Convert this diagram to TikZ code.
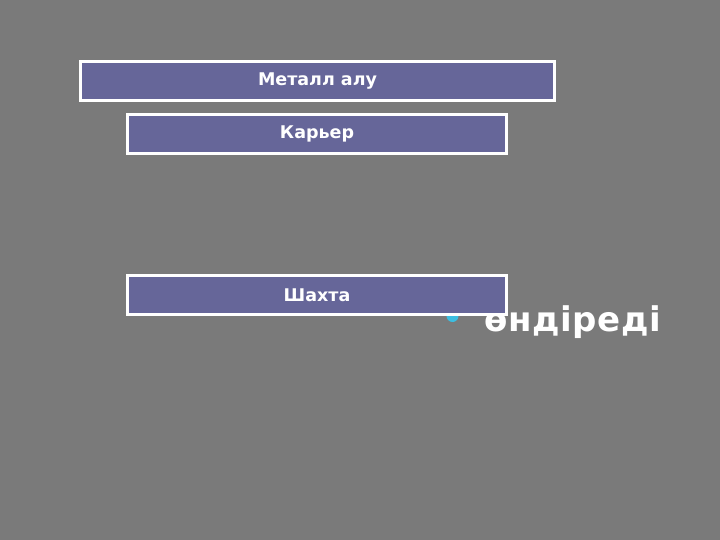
\documentclass[tikz,border=0pt]{standalone}
\usepackage{fontspec}
\setmainfont{DejaVu Sans}
\usepackage{xcolor}
\usetikzlibrary{positioning}

\definecolor{slidegray}{RGB}{122,122,122}
\definecolor{boxblue}{RGB}{102,102,153}
\definecolor{bulletcyan}{RGB}{60,190,225}

\tikzset{
  titlebox/.style={draw=white, line width=3pt, fill=boxblue, text=white,
    font=\bfseries\fontsize{17.5}{20}\selectfont, inner sep=0pt,
    minimum height=39pt},
}

\begin{document}
\begin{tikzpicture}[x=1pt, y=-1pt]
  % slide background
  \fill[slidegray] (0,0) rectangle (720,540);
  \useasboundingbox (0,0) rectangle (720,540);

  % bullet of the text line
  \fill[bulletcyan] (452.5,316) circle (6pt);
  \node[anchor=base west, inner sep=0pt, text=white,
    font=\bfseries\fontsize{34}{40}\selectfont\addfontfeature{LetterSpace=2}]
    (verb) at (484,331) {өндіреді};

  % boxes
  \node[titlebox, minimum width=474pt] (metal) at (317.5,81) {Металл алу};
  \node[titlebox, minimum width=379pt] (quarry) at (317,134) {Карьер};
  \node[titlebox, minimum width=379pt] (mine) at (317,295) {Шахта};
\end{tikzpicture}
\end{document}
